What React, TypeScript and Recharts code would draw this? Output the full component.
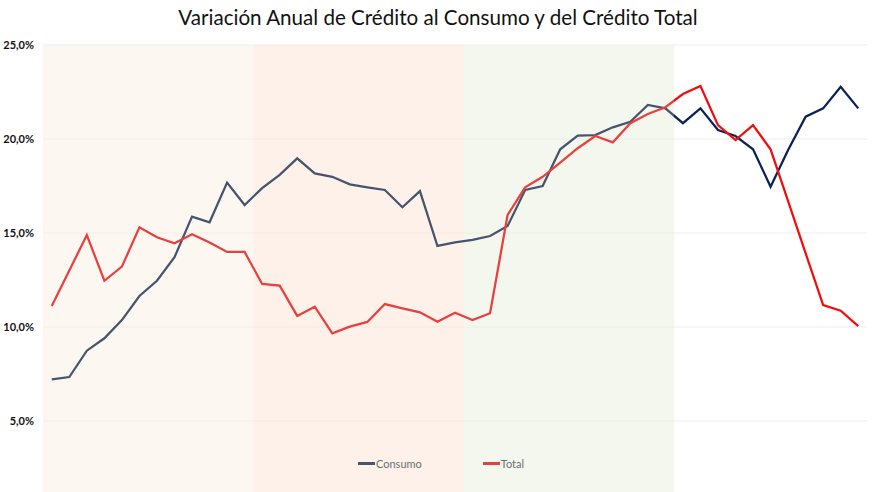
import { CartesianGrid, Line, LineChart, ReferenceArea, XAxis, YAxis } from "recharts";

const periods = [
  "1", "2", "3", "4", "5", "6", "7", "8", "9", "10", "11", "12",
  "13", "14", "15", "16", "17", "18", "19", "20", "21", "22", "23", "24",
  "25", "26", "27", "28", "29", "30", "31", "32", "33", "34", "35", "36",
  "37", "38", "39", "40", "41", "42", "43", "44", "45", "46", "47"
];

const consumo = [
  7.22, 7.34, 8.74, 9.4, 10.37, 11.65, 12.46, 13.71, 15.87, 15.57, 17.68, 16.49,
  17.39, 18.09, 18.97, 18.17, 17.99, 17.59, 17.43, 17.29, 16.37, 17.23, 14.31, 14.5,
  14.63, 14.84, 15.37, 17.29, 17.5, 19.45, 20.18, 20.21, 20.62, 20.92, 21.81, 21.63,
  20.84, 21.63, 20.48, 20.16, 19.45, 17.46, 19.41, 21.19, 21.63, 22.78, 21.63
];

const total = [
  11.12, 13.0, 14.89, 12.46, 13.21, 15.3, 14.77, 14.45, 14.93, 14.49, 13.99, 13.99,
  12.29, 12.2, 10.59, 11.08, 9.66, 10.02, 10.27, 11.22, 10.99, 10.78, 10.28, 10.76,
  10.37, 10.73, 15.96, 17.43, 17.99, 18.74, 19.51, 20.16, 19.82, 20.84, 21.33, 21.69,
  22.39, 22.82, 20.74, 19.94, 20.74, 19.45, 16.7, 13.92, 11.17, 10.87, 10.05
];

const yTicks = [5, 10, 15, 20, 25];

// background phases: first and last period of each band
const phases = [
  { from: "1", to: "12", color: "#FCF2E9" },
  { from: "13", to: "24", color: "#FCE8DC" },
  { from: "25", to: "36", color: "#EDF2E3" }
];

const data = periods.map((period, i) => ({ period, consumo: consumo[i], total: total[i] }));

const series = [
  { key: "consumo", name: "Consumo", shaded: "#46546C", plain: "#0B2256" },
  { key: "total", name: "Total", shaded: "#E8403F", plain: "#F20D0D" }
];

// lines switch colour where the last shaded band ends (between two periods)
const lastShaded = periods.indexOf(phases[phases.length - 1].to);
const switchAt = (lastShaded + 0.5) / (periods.length - 1);

const formatPct = (v: number) => v.toFixed(1).replace(".", ",") + "%";

const font = "Lato, sans-serif";

export default function App() {
  return (
    <div style={{ position: "absolute", left: 0, top: 0, width: 876, height: 492, overflow: "hidden", background: "#fff" }}>
      <div
        style={{
          position: "absolute",
          top: 5,
          left: 0,
          width: 876,
          textAlign: "center",
          fontFamily: font,
          fontSize: 20.6,
          color: "#111",
          zIndex: 2
        }}
      >
        Variación Anual de Crédito al Consumo y del Crédito Total
      </div>
      <LineChart width={876} height={520} data={data} margin={{ top: 45, right: 9, bottom: 5, left: 7 }}>
        <defs>
          {series.map((s) => (
            <linearGradient key={s.key} id={"grad-" + s.key} x1="0" y1="0" x2="1" y2="0">
              <stop offset={switchAt} stopColor={s.shaded} />
              <stop offset={switchAt} stopColor={s.plain} />
            </linearGradient>
          ))}
        </defs>
        <CartesianGrid vertical={false} stroke="#EDEDED" />
        {phases.map((p) => (
          <ReferenceArea key={p.from} x1={p.from} x2={p.to} fill={p.color} fillOpacity={0.6} stroke="none" />
        ))}
        <XAxis dataKey="period" scale="band" hide />
        <YAxis
          width={36}
          domain={[0, 25]}
          ticks={yTicks}
          tickFormatter={formatPct}
          axisLine={false}
          tickLine={false}
          tickSize={0}
          tickMargin={9}
          tick={{ fontFamily: font, fontSize: 11, fontWeight: 700, fill: "#111" }}
        />
        {series.map((s) => (
          <Line
            key={s.key}
            type="linear"
            dataKey={s.key}
            name={s.name}
            stroke={`url(#grad-${s.key})`}
            strokeWidth={2.25}
            dot={false}
            isAnimationActive={false}
          />
        ))}
      </LineChart>
      <div
        style={{
          position: "absolute",
          left: 358,
          top: 457,
          display: "flex",
          gap: 61,
          fontFamily: font,
          fontSize: 11,
          color: "#6E6E6E"
        }}
      >
        {series.map((s) => (
          <div key={s.key} style={{ display: "flex", alignItems: "center" }}>
            <span style={{ display: "inline-block", width: 17, height: 2.5, background: s.shaded, marginRight: 1 }} />
            <span>{s.name}</span>
          </div>
        ))}
      </div>
    </div>
  );
}
